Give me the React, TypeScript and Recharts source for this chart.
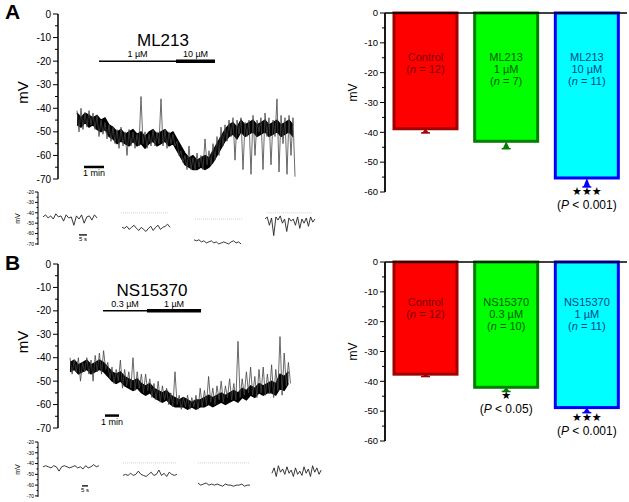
import React from 'react';
import { LineChart, Line, Area, ComposedChart, XAxis, YAxis, BarChart, Bar, ReferenceLine, ReferenceDot } from 'recharts';

const FONT = '"Liberation Sans", Arial, Helvetica, sans-serif';

// ---- main traces (mV), read every step (min) ----
// excursions (outer envelope of the noise)
const A_STEP = 0.2;
const A_HI = [-41, -40, -42, -41, -42, -43, -45, -46, -47, -48, -49, -48, -50, -49, -50, -51, -35, -50, -51, -49, -50, -36, -49, -50, -51, -54, -58, -60, -56, -61, -59, -60, -53, -58, -55, -52, -48, -47, -45, -44, -45, -44, -46, -45, -43, -45, -44, -42, -44, -45, -36, -43, -44, -43, -44];
const A_LO = [-50, -49, -48, -47, -49, -52, -51, -53, -54, -55, -57, -56, -60, -56, -57, -56, -55, -57, -56, -56, -55, -56, -57, -55, -56, -60, -63, -66, -66, -66, -65, -66, -64, -64, -62, -60, -56, -54, -52, -62, -51, -66, -52, -68, -60, -50, -66, -52, -64, -52, -67, -55, -68, -60, -69];
// dense core of the trace
const A_CORE_HI = [-42, -44, -42, -43, -44, -43, -45, -44, -47, -48, -50, -49, -51, -50, -49, -51, -50, -52, -50, -49, -51, -50, -49, -51, -50, -53, -56, -59, -61, -60, -62, -61, -60, -61, -58, -55, -52, -49, -47, -46, -48, -45, -47, -46, -45, -47, -46, -45, -47, -46, -45, -47, -46, -45, -47];
const A_CORE_LO = [-47, -48, -46, -48, -47, -49, -50, -49, -52, -53, -55, -54, -55, -56, -54, -56, -55, -57, -55, -54, -56, -55, -54, -56, -55, -58, -61, -64, -65, -66, -66, -65, -66, -65, -63, -60, -57, -54, -52, -51, -53, -50, -52, -51, -50, -52, -51, -50, -52, -51, -50, -52, -51, -50, -52];

const B_STEP = 0.3;
const B_HI = [-40, -41, -40, -42, -40, -41, -39, -38, -37, -42, -44, -45, -41, -45, -46, -40, -46, -47, -47, -49, -51, -50, -52, -53, -55, -46, -56, -57, -56, -57, -56, -53, -54, -48, -53, -52, -50, -52, -49, -51, -33, -49, -46, -44, -48, -45, -44, -47, -43, -45, -31, -38, -42];
const B_LO = [-47, -46, -50, -46, -47, -50, -46, -47, -45, -49, -51, -50, -53, -52, -53, -54, -53, -55, -54, -57, -58, -59, -58, -60, -61, -60, -62, -61, -62, -61, -62, -61, -60, -59, -60, -58, -59, -57, -58, -58, -57, -56, -55, -56, -57, -55, -56, -55, -57, -54, -56, -52, -51];
const B_CORE_HI = [-42, -41, -43, -42, -41, -43, -42, -41, -42, -44, -46, -47, -46, -48, -49, -50, -49, -51, -52, -51, -53, -54, -55, -54, -56, -57, -58, -57, -58, -59, -58, -58, -57, -56, -57, -56, -55, -56, -55, -54, -55, -53, -54, -52, -53, -51, -52, -51, -50, -51, -47, -48, -46];
const B_CORE_LO = [-46, -45, -47, -46, -45, -47, -46, -45, -46, -48, -50, -51, -50, -52, -53, -54, -53, -55, -56, -55, -57, -58, -59, -58, -60, -61, -61, -61, -62, -61, -62, -61, -61, -60, -61, -60, -59, -60, -59, -58, -59, -57, -58, -56, -57, -55, -56, -55, -55, -56, -53, -54, -51];

// drug applications (min)
const A_DRUGS = [
  { from: 1.1, to: 4.95, label: '1 µM', thick: false },
  { from: 4.95, to: 6.9, label: '10 µM', thick: true },
];
const B_DRUGS = [
  { from: 2.36, to: 5.5, label: '0.3 µM', thick: false },
  { from: 5.5, to: 9.36, label: '1 µM', thick: true },
];

// ---- insets (s, mV) ----
const A_INSET = [
  { from: 3.1, to: 36.9, values: [-44, -42, -45, -43, -46, -41, -44, -43, -48, -42, -45, -44, -52, -43, -46, -42, -50, -44, -43, -47, -42, -45] },
  { from: 52.5, to: 82.5, values: [-54, -55, -53, -56, -54, -52, -55, -57, -54, -56, -58, -55, -53, -57, -54, -52, -56, -54, -53, -51, -54] },
  { from: 97.5, to: 126.9, values: [-66, -67, -66, -68, -67, -69, -68, -67, -69, -68, -70, -69, -68, -69, -70, -68, -67, -69, -68, -70] },
  { from: 141.9, to: 173.1, values: [-46, -44, -52, -45, -62, -44, -47, -43, -50, -46, -58, -45, -48, -46, -52, -44, -55, -46, -50, -45, -53, -44, -49, -46] },
];
const A_INSET_BASE = [
  { from: 52, to: 82, v: -40 },
  { from: 98.1, to: 127.5, v: -46 },
  { from: 143, to: 171.9, v: -40 },
];
const B_INSET = [
  { from: 4.2, to: 50.8, values: [-43, -42, -43, -44, -42, -43, -47, -43, -42, -43, -44, -43, -42, -44, -43, -45, -42, -44, -43, -41, -43, -42] },
  { from: 70.8, to: 115.8, values: [-51, -50, -51, -49, -51, -50, -47, -50, -51, -52, -50, -48, -51, -50, -46, -51, -49, -52, -48, -50, -51, -50] },
  { from: 133.3, to: 176.7, values: [-58, -60, -59, -58, -60, -59, -60, -59, -60, -61, -59, -60, -60, -61, -60, -60, -59, -61, -60, -60] },
  { from: 195, to: 236, values: [-49, -44, -52, -42, -48, -45, -50, -43, -49, -46, -52, -44, -50, -47, -51, -43, -49, -45, -52, -42, -48, -44, -50, -46] },
];
const B_INSET_BASE = [
  { from: 70.8, to: 115.8, v: -39.4 },
  { from: 133.3, to: 176.7, v: -39.4 },
];

// ---- bar summaries ----
const A_LABELS = [['Control'], ['ML213', '1 µM'], ['ML213', '10 µM']];
const A_N = [12, 7, 11];
const A_MEAN = [-38.8, -43.0, -55.3];
const A_SEM = [1.4, 2.5, 3.0];
const A_STARS = ['', '', '★★★'];
const A_P = ['', '', '0.001'];

const B_LABELS = [['Control'], ['NS15370', '0.3 µM'], ['NS15370', '1 µM']];
const B_N = [12, 10, 11];
const B_MEAN = [-37.6, -42.0, -48.8];
const B_SEM = [0.8, 1.4, 1.7];
const B_STARS = ['', '★', '★★★'];
const B_P = ['', '0.05', '0.001'];

const MAIN_TICKS = [0, -5, -10, -15, -20, -25, -30, -35, -40, -45, -50, -55, -60, -65, -70];
const BAR_TICKS = [0, -5, -10, -15, -20, -25, -30, -35, -40, -45, -50, -55, -60];
const INSET_TICKS = [-20, -25, -30, -35, -40, -45, -50, -55, -60, -65, -70];

const BAR_FILL = ['#ff0000', '#00ff00', '#00ffff'];
const BAR_EDGE = ['#a00000', '#008000', '#0000ff'];
const BAR_TEXT = ['#7a0000', '#005a00', '#00458f'];

const zigzag = (hi: number[], lo: number[], step: number) => {
  const pts: { t: number; v: number }[] = [];
  hi.forEach((h, i) => {
    pts.push({ t: i * step, v: h });
    pts.push({ t: i * step + step / 2, v: lo[i] });
  });
  return pts;
};

const band = (hi: number[], lo: number[], step: number) => hi.map((h, i) => ({ t: i * step, band: [lo[i], h] }));

const segPoints = (s: { from: number; to: number; values: number[] }) =>
  s.values.map((v, i) => ({ t: s.from + ((s.to - s.from) * i) / (s.values.length - 1), v }));

const makeTick = (fontSize: number, major: number, minor: number, gap: number) => (props: any) => {
  const { x, y, payload } = props;
  const v = payload.value;
  const isMajor = v % 10 === 0;
  return (
    <g>
      <line x1={x - (isMajor ? major : minor)} x2={x} y1={y} y2={y} stroke="#000" strokeWidth={1} />
      {isMajor && (
        <text x={x - major - gap} y={y} dy="0.35em" textAnchor="end" fontSize={fontSize} fontFamily={FONT} fill="#000">
          {String(v)}
        </text>
      )}
    </g>
  );
};

const yLabel = (text: string, fontSize: number, cx: number, dy: number) => (props: any) => {
  const vb = props.viewBox || { y: 0, height: 0 };
  const cy = vb.y + vb.height / 2 + dy;
  return (
    <text x={cx} y={cy} transform={`rotate(-90 ${cx} ${cy})`} textAnchor="middle" dominantBaseline="central" fontSize={fontSize} fontFamily={FONT} fill="#000">
      {text}
    </text>
  );
};

type Drug = { from: number; to: number; label: string; thick: boolean };

function TracePanel(p: {
  data: { t: number; v: number }[];
  core: { t: number; band: number[] }[];
  xDomain: [number, number];
  drugs: Drug[];
  title: string;
  titleAt: [number, number];
  scale: [number, number, number];
  labelDy: number;
  plotBottom: number;
}) {
  return (
    <ComposedChart width={310} height={190} margin={{ top: 14, right: 2, bottom: p.plotBottom, left: 0 }}>
      <XAxis type="number" dataKey="t" domain={p.xDomain} hide allowDataOverflow />
      <YAxis
        type="number"
        domain={[-70, 0]}
        ticks={MAIN_TICKS}
        interval={0}
        width={58}
        tickSize={0}
        tickMargin={0}
        tickLine={false}
        tick={makeTick(10, 5, 3, 2)}
        axisLine={{ stroke: '#000', strokeWidth: 1.5 }}
        label={{ content: yLabel('mV', 15, 22, p.labelDy) }}
        allowDataOverflow
      />
      <Line data={p.data} dataKey="v" type="linear" stroke="#444" strokeWidth={0.8} dot={false} isAnimationActive={false} />
      <Area data={p.core} dataKey="band" type="linear" stroke="#000" strokeWidth={1.2} fill="#000" fillOpacity={1} isAnimationActive={false} />
      {p.drugs.map((d) => (
        <ReferenceLine
          key={d.label}
          segment={[{ x: d.from, y: -20 }, { x: d.to, y: -20 }]}
          stroke="#000"
          strokeWidth={d.thick ? 3.5 : 1.5}
          label={{ value: d.label, position: 'top', fontSize: 9, fill: '#000', offset: 4 }}
        />
      ))}
      <ReferenceLine
        segment={[{ x: p.scale[0], y: p.scale[2] }, { x: p.scale[1], y: p.scale[2] }]}
        stroke="#000"
        strokeWidth={2.5}
        label={{ value: '1 min', position: 'bottom', fontSize: 9, fill: '#000', offset: 3 }}
      />
      <ReferenceDot
        x={p.titleAt[0]}
        y={p.titleAt[1]}
        r={0}
        fill="none"
        stroke="none"
        label={{ value: p.title, position: 'center', fontSize: 17, fill: '#000' }}
      />
    </ComposedChart>
  );
}

function InsetPanel(p: {
  segs: { from: number; to: number; values: number[] }[];
  base: { from: number; to: number; v: number }[];
  xDomain: [number, number];
  height: number;
  scale: [number, number, number];
}) {
  return (
    <LineChart width={322} height={p.height} margin={{ top: 12, right: 0, bottom: 5, left: 0 }}>
      <XAxis type="number" dataKey="t" domain={p.xDomain} hide allowDataOverflow />
      <YAxis
        type="number"
        domain={[-71, -20]}
        ticks={INSET_TICKS}
        interval={0}
        width={38}
        tickSize={0}
        tickMargin={0}
        tickLine={false}
        tick={makeTick(5, 3, 1.5, 1)}
        axisLine={{ stroke: '#000', strokeWidth: 1 }}
        label={{ content: yLabel('mV', 7, 17, 0) }}
      />
      {p.base.map((b, i) => (
        <ReferenceLine key={'b' + i} segment={[{ x: b.from, y: b.v }, { x: b.to, y: b.v }]} stroke="#cfcfcf" strokeDasharray="1 1" />
      ))}
      {p.segs.map((s, i) => (
        <Line key={i} data={segPoints(s)} dataKey="v" type="linear" stroke="#222" strokeWidth={0.9} dot={false} isAnimationActive={false} />
      ))}
      <ReferenceLine
        segment={[{ x: p.scale[0], y: p.scale[2] }, { x: p.scale[1], y: p.scale[2] }]}
        stroke="#000"
        strokeWidth={1.3}
        label={{ value: '5 s', position: 'bottom', fontSize: 6, fill: '#000', offset: 2 }}
      />
    </LineChart>
  );
}

const makeBarShape = (labels: string[][], ns: number[], stars: string[], ps: string[], firstLine: number) => (props: any) => {
  const { x, y, width, height, index, payload } = props;
  const top = Math.min(y, y + height);
  const h = Math.abs(height);
  const bottom = top + h;
  const cx = x + width / 2;
  const perUnit = h / Math.abs(payload.mean);
  const errEnd = bottom + payload.sem * perUnit;
  const lines = labels[index];
  const edge = BAR_EDGE[index];
  return (
    <g>
      <rect x={x} y={top} width={width} height={h} fill={BAR_FILL[index]} stroke={edge} strokeWidth={3} />
      <path d={`M${cx},${bottom} L${cx + 3.5},${errEnd} L${cx - 3.5},${errEnd} Z`} fill={edge} />
      <line x1={cx - 4.5} x2={cx + 4.5} y1={errEnd} y2={errEnd} stroke={edge} strokeWidth={1.5} />
      {lines.map((ln, i) => (
        <text key={i} x={cx} y={top + firstLine + i * 12.3} textAnchor="middle" dominantBaseline="central" fontSize={11} fontFamily={FONT} fill={BAR_TEXT[index]}>
          {ln}
        </text>
      ))}
      <text x={cx} y={top + firstLine + lines.length * 11.8} textAnchor="middle" dominantBaseline="central" fontSize={11} fontFamily={FONT} fill={BAR_TEXT[index]}>
        (<tspan fontStyle="italic">n</tspan> = {ns[index]})
      </text>
      {stars[index] && (
        <text x={cx} y={errEnd + 4.5} textAnchor="middle" dominantBaseline="central" fontSize={11} fontFamily='"DejaVu Sans", sans-serif' fill="#000">
          {stars[index]}
        </text>
      )}
      {ps[index] && (
        <text x={cx} y={errEnd + 18} textAnchor="middle" dominantBaseline="central" fontSize={12} fontFamily={FONT} fill="#000">
          (<tspan fontStyle="italic">P</tspan> &lt; {ps[index]})
        </text>
      )}
    </g>
  );
};

function BarPanel(p: {
  labels: string[][];
  ns: number[];
  means: number[];
  sems: number[];
  stars: string[];
  ps: string[];
  top: number;
  firstLine: number;
  labelDy: number;
}) {
  const rows = p.labels.map((l, i) => ({ name: l.join(' '), mean: p.means[i], sem: p.sems[i] }));
  return (
    <BarChart width={309} height={230} data={rows} margin={{ top: p.top, right: 2, bottom: 230 - p.top - 179, left: 0 }}>
      <XAxis dataKey="name" type="category" hide />
      <YAxis
        type="number"
        domain={[-60, 0]}
        ticks={BAR_TICKS}
        interval={0}
        width={65}
        tickSize={0}
        tickMargin={0}
        tickLine={false}
        tick={makeTick(9.5, 5, 3, 2)}
        axisLine={{ stroke: '#000', strokeWidth: 1.8 }}
        label={{ content: yLabel('mV', 12, 33, p.labelDy) }}
      />
      <Bar dataKey="mean" barSize={63} isAnimationActive={false} shape={makeBarShape(p.labels, p.ns, p.stars, p.ps, p.firstLine)} />
      <ReferenceLine y={0} stroke="#000" strokeWidth={1.5} />
    </BarChart>
  );
}

const letter: React.CSSProperties = { position: 'absolute', left: 5, fontSize: 21, fontWeight: 'bold', fontFamily: FONT, lineHeight: '21px' };

export default function App() {
  return (
    <div style={{ position: 'absolute', left: 0, top: 0, width: 629, height: 502, background: '#fff', fontFamily: FONT, overflow: 'hidden' }}>
      <div style={{ position: 'absolute', left: 0, top: 0 }}>
        <TracePanel
          data={zigzag(A_HI, A_LO, A_STEP)}
          core={band(A_CORE_HI, A_CORE_LO, A_STEP)}
          xDomain={[-0.95, 11.55]}
          drugs={A_DRUGS}
          title="ML213"
          titleAt={[4.3, -11]}
          scale={[0.35, 1.35, -64.9]}
          labelDy={-4}
          plotBottom={11}
        />
      </div>
      <div style={{ position: 'absolute', left: 0, top: 180 }}>
        <InsetPanel segs={A_INSET} base={A_INSET_BASE} xDomain={[0, 177.5]} height={70} scale={[25.6, 30.6, -61.3]} />
      </div>
      <div style={{ position: 'absolute', left: 320, top: 0 }}>
        <BarPanel labels={A_LABELS} ns={A_N} means={A_MEAN} sems={A_SEM} stars={A_STARS} ps={A_P} top={13} firstLine={44} labelDy={-10} />
      </div>

      <div style={{ position: 'absolute', left: 0, top: 250 }}>
        <TracePanel
          data={zigzag(B_HI, B_LO, B_STEP)}
          core={band(B_CORE_HI, B_CORE_LO, B_STEP)}
          xDomain={[-0.857, 17.0]}
          drugs={B_DRUGS}
          title="NS15370"
          titleAt={[5.86, -11.1]}
          scale={[2.5, 3.5, -64.7]}
          labelDy={-4}
          plotBottom={12}
        />
      </div>
      <div style={{ position: 'absolute', left: 0, top: 430 }}>
        <InsetPanel segs={B_INSET} base={B_INSET_BASE} xDomain={[0, 236.7]} height={72} scale={[36.7, 41.7, -60.7]} />
      </div>
      <div style={{ position: 'absolute', left: 320, top: 250 }}>
        <BarPanel labels={B_LABELS} ns={B_N} means={B_MEAN} sems={B_SEM} stars={B_STARS} ps={B_P} top={12} firstLine={40} labelDy={0} />
      </div>

      <div style={{ ...letter, top: 1 }}>A</div>
      <div style={{ ...letter, top: 252 }}>B</div>
    </div>
  );
}
